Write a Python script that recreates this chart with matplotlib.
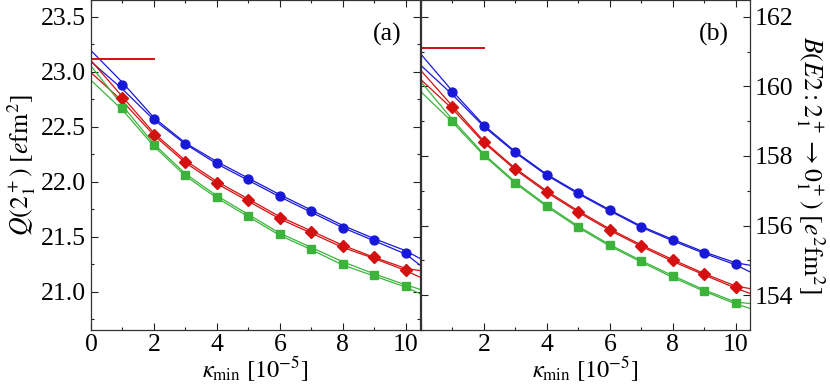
import matplotlib
matplotlib.use('Agg')
import matplotlib.pyplot as plt
import numpy as np

plt.rcParams['font.family'] = ['Liberation Serif', 'DejaVu Serif']
plt.rcParams['mathtext.fontset'] = 'stix'

# data points (kappa_min in units of 1e-5)
kappa = [1, 2, 3, 4, 5, 6, 7, 8, 9, 10]
# sample points of the two fit curves per series
kappa_fit = [0, 1, 2, 3, 4, 5, 6, 7, 8, 9, 10, 10.45]

# (a) quadrupole moment Q(2+)
q_blue = [22.88, 22.57, 22.34, 22.17, 22.02, 21.87, 21.73, 21.58, 21.47, 21.35]
q_red = [22.755, 22.425, 22.18, 21.99, 21.83, 21.67, 21.54, 21.41, 21.31, 21.20]
q_green = [22.67, 22.33, 22.06, 21.86, 21.69, 21.52, 21.39, 21.25, 21.15, 21.05]

q_blue_fit1 = [23.19, 22.90, 22.58, 22.35, 22.18, 22.03, 21.88, 21.74, 21.60, 21.48, 21.37, 21.30]
q_blue_fit2 = [23.09, 22.84, 22.56, 22.34, 22.16, 22.01, 21.86, 21.72, 21.58, 21.46, 21.34, 21.24]
q_red_fit1 = [23.10, 22.77, 22.44, 22.19, 22.00, 21.84, 21.68, 21.55, 21.42, 21.31, 21.21, 21.19]
q_red_fit2 = [22.99, 22.73, 22.42, 22.17, 21.98, 21.82, 21.66, 21.53, 21.40, 21.30, 21.19, 21.13]
q_green_fit1 = [23.05, 22.69, 22.34, 22.07, 21.87, 21.70, 21.53, 21.40, 21.27, 21.16, 21.06, 21.02]
q_green_fit2 = [22.92, 22.65, 22.32, 22.05, 21.85, 21.68, 21.51, 21.38, 21.24, 21.14, 21.04, 20.98]
q_ref = 23.11

# (b) B(E2) transition strength
b_blue = [159.83, 158.86, 158.11, 157.46, 156.93, 156.44, 155.97, 155.58, 155.22, 154.90]
b_red = [159.40, 158.40, 157.62, 156.97, 156.40, 155.88, 155.42, 155.00, 154.60, 154.23]
b_green = [159.01, 158.03, 157.23, 156.56, 155.96, 155.43, 154.97, 154.54, 154.13, 153.78]

b_blue_fit1 = [160.92, 159.86, 158.88, 158.12, 157.47, 156.94, 156.45, 155.98, 155.60, 155.24, 154.93, 154.86]
b_blue_fit2 = [160.60, 159.76, 158.84, 158.09, 157.44, 156.91, 156.42, 155.95, 155.56, 155.20, 154.87, 154.67]
b_red_fit1 = [160.45, 159.43, 158.42, 157.64, 156.99, 156.42, 155.90, 155.44, 155.02, 154.62, 154.26, 154.19]
b_red_fit2 = [160.19, 159.35, 158.38, 157.60, 156.95, 156.38, 155.86, 155.40, 154.97, 154.58, 154.20, 154.05]
b_green_fit1 = [160.13, 159.04, 158.05, 157.25, 156.58, 155.98, 155.45, 154.99, 154.56, 154.15, 153.80, 153.76]
b_green_fit2 = [159.84, 158.97, 158.01, 157.21, 156.54, 155.94, 155.41, 154.95, 154.51, 154.11, 153.75, 153.62]
b_ref = 161.1

ref_range = [0, 2]

BLUE = '#1818d8'
RED = '#d41010'
GREEN = '#3cb43c'

fig = plt.figure(figsize=(8.3, 3.85), dpi=100)
ax1 = fig.add_axes([91/830, 1 - 330/385, 329/830, 330/385])
ax2 = fig.add_axes([421/830, 1 - 330/385, 329/830, 330/385])


def draw_panel(ax, pts, fits, ref):
    styles = [(BLUE, 'o', 6.4), (RED, 'D', 6.0), (GREEN, 's', 5.4)]
    for (col, mk, ms), y, (f1, f2) in zip(styles, pts, fits):
        ax.plot(kappa_fit, f1, color=col, lw=0.9, zorder=2)
        ax.plot(kappa_fit, f2, color=col, lw=0.9, zorder=2)
        ax.plot(kappa, y, ls='none', marker=mk, ms=ms, color=col, zorder=3)
    ax.plot(ref_range, [ref, ref], color=RED, lw=1.4, zorder=2)
    ax.set_xlim(0, 10.45)
    ax.set_xticks([0, 2, 4, 6, 8, 10])
    ax.set_xticks(np.arange(1, 11, 2), minor=True)
    ax.tick_params(which='both', direction='in', top=True, bottom=True,
                   left=True, right=True, labelsize=18.5, width=0.8, colors='#222222')
    ax.tick_params(which='major', length=5)
    ax.tick_params(which='minor', length=2.5)
    ax.tick_params(axis='x', pad=3)
    ax.tick_params(axis='both', labelcolor='black')
    for s in ax.spines.values():
        s.set_linewidth(0.9)
        s.set_color('#333333')
    ax.set_xlabel(r'$\kappa_{\rm min}\ [10^{-5}]$', fontsize=17.5, labelpad=-1)


draw_panel(ax1, [q_blue, q_red, q_green],
           [(q_blue_fit1, q_blue_fit2), (q_red_fit1, q_red_fit2), (q_green_fit1, q_green_fit2)],
           q_ref)
ax1.set_ylim(20.65, 23.65)
ax1.set_yticks([21.0, 21.5, 22.0, 22.5, 23.0, 23.5])
ax1.set_yticks(np.arange(20.75, 23.65, 0.5), minor=True)
ax1.set_yticklabels(['21.0', '21.5', '22.0', '22.5', '23.0', '23.5'])
ax1.set_ylabel(r'$Q(2^+_1)\ [e\mathrm{fm}^2]$', fontsize=18.5, labelpad=2)
ax1.text(0.90, 0.895, '(a)', transform=ax1.transAxes, fontsize=18.5,
         ha='center', va='center')

draw_panel(ax2, [b_blue, b_red, b_green],
           [(b_blue_fit1, b_blue_fit2), (b_red_fit1, b_red_fit2), (b_green_fit1, b_green_fit2)],
           b_ref)
ax2.set_xticklabels(['', '2', '4', '6', '8', '10'])
ax2.set_ylim(153.05, 162.48)
ax2.set_yticks([154, 156, 158, 160, 162])
ax2.set_yticks(np.arange(153, 162.5, 1), minor=True)
ax2.tick_params(axis='y', labelleft=False, labelright=True)
ax2.yaxis.set_label_position('right')
ax2.set_ylabel(r'$B(E2: 2^+_1 \rightarrow 0^+_1)\ [e^2\mathrm{fm}^2]$',
               fontsize=18.5, rotation=270, labelpad=24)
ax2.text(0.89, 0.895, '(b)', transform=ax2.transAxes, fontsize=18.5,
         ha='center', va='center')

fig.savefig('out.png', dpi=100)
